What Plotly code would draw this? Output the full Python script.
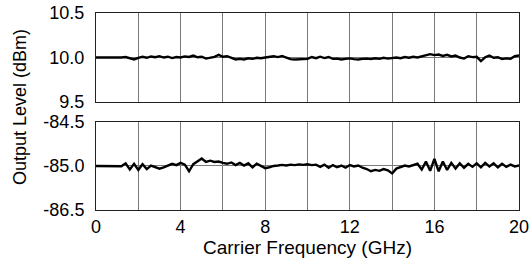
import plotly.graph_objects as go

freq_ghz = [round(i * 0.2, 1) for i in range(101)]

level_top_dbm = [
    10.000, 10.000, 9.997, 10.000, 10.003, 9.998, 10.000, 10.006, 9.992, 9.978,
    9.997, 10.008, 9.997, 10.012, 10.003, 10.015, 10.000, 10.009, 9.994, 10.005,
    10.000, 10.012, 10.006, 10.022, 10.003, 10.009, 9.988, 9.994, 10.008, 10.030,
    10.008, 10.015, 9.992, 9.978, 9.985, 9.978, 9.992, 9.985, 9.997, 9.992,
    10.000, 10.006, 10.015, 10.005, 10.018, 10.000, 9.982, 9.978, 9.980, 9.979,
    9.985, 10.006, 9.992, 10.009, 9.994, 10.006, 9.985, 9.988, 9.978, 9.985,
    9.990, 9.982, 9.978, 9.985, 9.988, 9.982, 9.992, 9.985, 9.997, 9.988,
    9.994, 10.000, 9.992, 10.005, 9.997, 10.008, 10.000, 10.012, 10.030, 10.038,
    10.027, 10.033, 10.018, 10.030, 10.012, 10.022, 10.000, 9.988, 10.015, 10.005,
    10.008, 9.960, 10.003, 10.022, 9.997, 10.003, 9.982, 9.990, 9.985, 10.015,
    10.022,
]

level_bottom_dbm = [
    -85.000, -85.000, -84.998, -85.000, -85.000, -84.998, -85.003, -84.970, -85.040, -84.975,
    -85.045, -84.980, -85.035, -84.995, -85.010, -85.030, -85.015, -84.995, -84.975, -84.990,
    -84.965, -84.985, -85.060, -84.980, -84.945, -84.915, -84.955, -84.940, -84.955, -84.950,
    -84.965, -84.975, -84.960, -84.990, -84.965, -84.995, -84.970, -85.015, -84.975, -85.000,
    -85.025, -85.015, -85.000, -84.995, -84.988, -84.995, -84.985, -84.990, -84.982, -84.988,
    -84.980, -84.990, -84.985, -85.010, -84.985, -85.020, -84.990, -85.015, -84.995, -85.020,
    -84.990, -85.005, -84.995, -85.020, -85.035, -85.060, -85.045, -85.055, -85.035, -85.050,
    -85.085, -85.030, -85.010, -84.995, -85.005, -84.990, -84.975, -85.040, -84.950, -85.055,
    -84.920, -85.060, -84.950, -85.045, -84.965, -85.030, -84.970, -85.020, -84.975, -85.010,
    -84.970, -85.015, -84.965, -85.005, -84.970, -85.015, -84.975, -85.010, -84.985, -85.005,
    -84.995,
]

x_tickvals = [0, 2, 4, 6, 8, 10, 12, 14, 16, 18, 20]
x_ticktext = ["0", "", "4", "", "8", "", "12", "", "16", "", "20"]

top_tickvals = [9.5, 10.0, 10.5]
top_ticktext = ["9.5", "10.0", "10.5"]
bottom_tickvals = [-85.5, -85.0, -84.5]
bottom_ticktext = ["-86.5", "-85.0", "-84.5"]

FONT = "Liberation Sans, Arial, sans-serif"
GRID = "#7a7a7a"
FRAME = "#222222"

fig = go.Figure()
fig.add_trace(go.Scatter(x=freq_ghz, y=level_top_dbm, mode="lines",
                         line=dict(color="black", width=2.4), xaxis="x", yaxis="y",
                         showlegend=False))
fig.add_trace(go.Scatter(x=freq_ghz, y=level_bottom_dbm, mode="lines",
                         line=dict(color="black", width=2.4), xaxis="x2", yaxis="y2",
                         showlegend=False))

common_x = dict(range=[0, 20], tickvals=x_tickvals, showgrid=True, gridcolor=GRID,
                gridwidth=1, showline=True, linecolor=FRAME, linewidth=1, mirror=True,
                ticks="", zeroline=False, automargin=False, ticklabeloverflow="allow")
common_y = dict(showgrid=True, gridcolor=GRID, gridwidth=1, showline=True,
                linecolor=FRAME, linewidth=1, mirror=True, ticks="", zeroline=False,
                tickfont=dict(family=FONT, size=18, color="black"),
                ticklabelstandoff=7, automargin=False, ticklabeloverflow="allow")

fig.update_layout(
    width=529, height=262,
    margin=dict(l=96, r=10, t=13, b=52),
    paper_bgcolor="white", plot_bgcolor="white",
    font=dict(family=FONT, size=18, color="black"),
    xaxis=dict(**common_x, anchor="y", showticklabels=False),
    yaxis=dict(**common_y, domain=[0.548, 1.0], range=[9.5, 10.5],
               tickvals=top_tickvals, ticktext=top_ticktext, anchor="x"),
    xaxis2=dict(**common_x, anchor="y2", ticktext=x_ticktext,
                tickfont=dict(family=FONT, size=18, color="black"),
                title=dict(text="Carrier Frequency (GHz)", standoff=2,
                           font=dict(family=FONT, size=19, color="black"))),
    yaxis2=dict(**common_y, domain=[0.0, 0.447], range=[-85.5, -84.5],
                tickvals=bottom_tickvals, ticktext=bottom_ticktext, anchor="x2"),
    annotations=[dict(text="Output Level (dBm)", x=(20 - 96) / 423, xref="paper",
                      xanchor="center", y=(210 - 107) / 197, yref="paper",
                      yanchor="middle", textangle=-90, showarrow=False,
                      font=dict(family=FONT, size=18, color="black"))],
)

fig.write_html("out.html", config={"displayModeBar": False},
               post_script="document.body.style.margin='0';document.body.style.padding='0';"
                           "document.body.style.overflow='hidden';")
